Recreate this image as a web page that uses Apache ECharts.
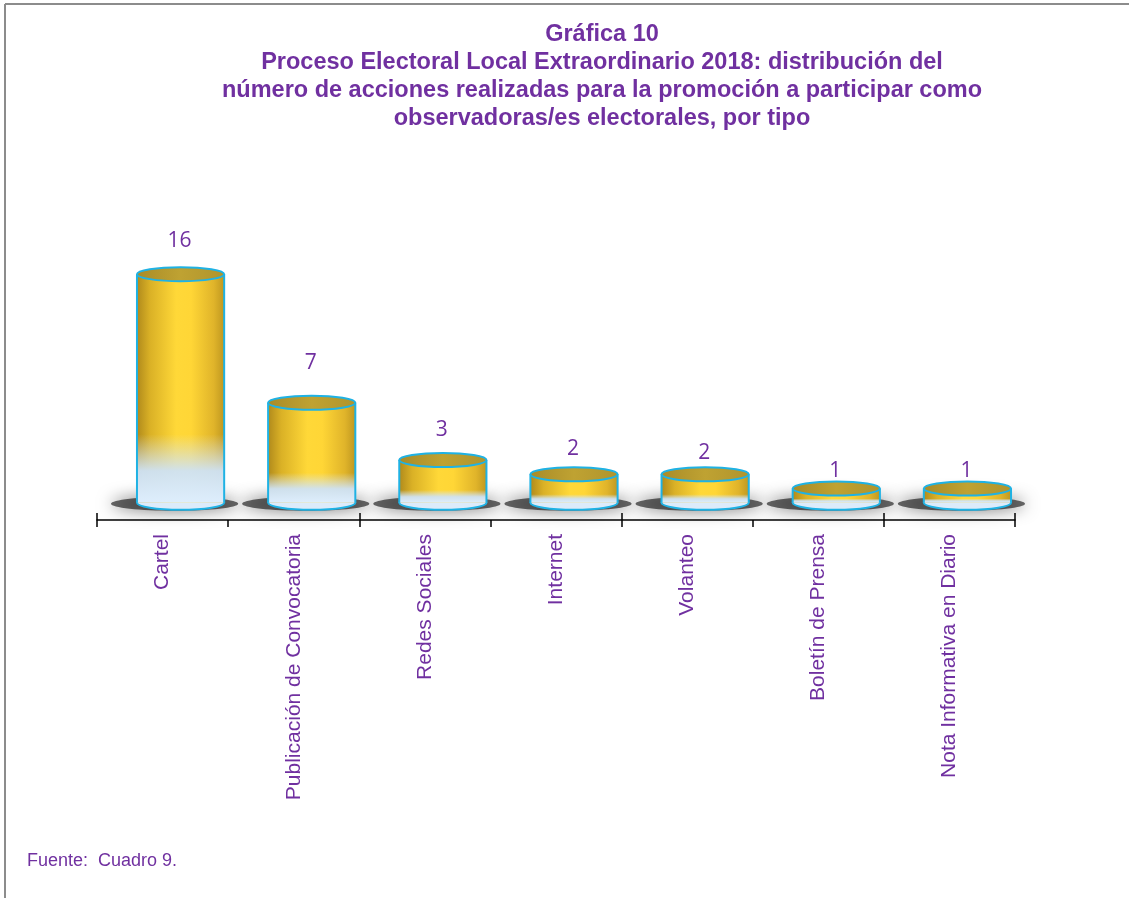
<!DOCTYPE html>
<html>
<head>
<meta charset="utf-8">
<script src="https://cdn.jsdelivr.net/npm/echarts@6/dist/echarts.min.js"></script>
<style>
  html, body { margin: 0; padding: 0; background: #fff; }
  #grafica10 { width: 1129px; height: 898px; }
</style>
</head>
<body>
<div id="grafica10"></div>
<script>
// datos de la gráfica
var categorias = ["Cartel", "Publicación de Convocatoria", "Redes Sociales", "Internet", "Volanteo", "Boletín de Prensa", "Nota Informativa en Diario"];
var acciones = [16, 7, 3, 2, 2, 1, 1];
var titulo = "Gráfica 10\nProceso Electoral Local Extraordinario 2018: distribución del\nnúmero de acciones realizadas para la promoción a participar como\nobservadoras/es electorales, por tipo";
var fuente = "Fuente:  Cuadro 9.";

var morado = "#7030a0";
var cian = "#1fb2e4";
// separacion de la etiqueta sobre la tapa (estilo)
var alzaEtiqueta = [33, 40, 30, 25, 21, 18, 18];

var grafica10 = echarts.init(document.getElementById("grafica10"));

function cilindro(params, api) {
  var i = api.value(0);
  var v = api.value(1);
  var top = api.coord([i, v]);
  var base = api.coord([i, 0]);
  var ancho = api.size([1, 0])[0] * 0.665;
  var rx = ancho / 2;
  var ry = 7;
  var cx = top[0] + 18;
  var yT = top[1];
  var yB = base[1];
  var x0 = cx - rx;
  var x1 = cx + rx;
  var dorado = new echarts.graphic.LinearGradient(0, 0, 1, 0, [
    { offset: 0, color: "#b08a1c" },
    { offset: 0.15, color: "#dab126" },
    { offset: 0.45, color: "#ffd838" },
    { offset: 0.62, color: "#ffd636" },
    { offset: 0.88, color: "#e0b42a" },
    { offset: 1, color: "#bf9820" },
  ]);
  var azul = new echarts.graphic.LinearGradient(0, 0, 0, 1, [
    { offset: 0, color: "rgba(214,232,250,0)" },
    { offset: 0.7, color: "rgba(214,232,250,0)" },
    { offset: 0.86, color: "rgba(206,226,246,0.95)" },
    { offset: 1, color: "rgba(222,238,253,1)" },
  ]);
  return {
    type: "group",
    children: [
      {
        type: "ellipse",
        shape: { cx: cx - 6, cy: yB + 1, rx: rx + 20, ry: 7 },
        style: {
          fill: "rgba(10,10,10,0.6)",
          shadowBlur: 16,
          shadowColor: "rgba(0,0,0,0.9)",
        },
      },
      {
        type: "ellipse",
        shape: { cx: cx, cy: yB, rx: rx, ry: ry },
        style: { fill: "#dcebfa", stroke: cian, lineWidth: 2 },
      },
      {
        type: "rect",
        shape: { x: x0, y: yT, width: ancho, height: yB - yT },
        style: { fill: dorado },
      },
      {
        type: "rect",
        shape: { x: x0, y: yT, width: ancho, height: yB - yT },
        style: { fill: azul },
      },
      {
        type: "line",
        shape: { x1: x0, y1: yT, x2: x0, y2: yB },
        style: { stroke: cian, lineWidth: 2 },
      },
      {
        type: "line",
        shape: { x1: x1, y1: yT, x2: x1, y2: yB },
        style: { stroke: cian, lineWidth: 2 },
      },
      {
        type: "ellipse",
        shape: { cx: cx, cy: yT, rx: rx, ry: ry },
        style: {
          fill: new echarts.graphic.LinearGradient(0, 0, 1, 0, [
            { offset: 0, color: "#a88b28" },
            { offset: 0.5, color: "#bfa232" },
            { offset: 1, color: "#b0942c" },
          ]),
          stroke: cian,
          lineWidth: 2,
        },
      },
      {
        type: "text",
        style: {
          text: String(v),
          x: cx - 1,
          y: yT - alzaEtiqueta[i],
          align: "center",
          verticalAlign: "middle",
          fill: morado,
          font: "21px 'Open Sans', sans-serif",
        },
      },
    ],
  };
}

var option = {
  animation: false,
  title: {
    text: titulo,
    left: 597,
    top: 16,
    textAlign: "center",
    textStyle: {
      color: morado,
      fontFamily: "Liberation Sans",
      fontWeight: "bold",
      fontSize: 23.5,
      lineHeight: 28,
    },
  },
  graphic: [
    {
      type: "line",
      shape: { x1: 5, y1: 4, x2: 5, y2: 898 },
      style: { stroke: "#8c8c8c", lineWidth: 2 },
    },
    {
      type: "line",
      shape: { x1: 5, y1: 4, x2: 1129, y2: 4 },
      style: { stroke: "#8c8c8c", lineWidth: 2 },
    },
    {
      type: "text",
      left: 27,
      top: 852,
      style: {
        text: fuente,
        fill: morado,
        font: "18px 'Liberation Sans', Arial, sans-serif",
      },
    },
  ],
  grid: {
    left: 97,
    right: 114,
    top: 217,
    bottom: 378,
  },
  xAxis: [
    {
      type: "category",
      data: categorias,
      position: "bottom",
      axisLine: { show: true, onZero: false, lineStyle: { color: "#000", width: 1.5 } },
      axisTick: { show: true, length: 7, lineStyle: { color: "#000", width: 1.5 } },
      axisLabel: {
        rotate: 90,
        interval: 0,
        margin: 14,
        color: morado,
        fontFamily: "Liberation Sans",
        fontSize: 21,
      },
    },
    {
      type: "category",
      data: categorias,
      position: "bottom",
      axisLine: { show: false, onZero: false },
      axisTick: { show: true, inside: true, length: 7, lineStyle: { color: "#000", width: 1.5 } },
      axisLabel: { show: false },
    },
  ],
  yAxis: {
    type: "value",
    min: -1.2,
    max: 20,
    show: false,
  },
  series: [
    {
      type: "custom",
      renderItem: cilindro,
      encode: { x: 0, y: 1 },
      data: acciones.map(function (v, i) {
        return [i, v];
      }),
    },
  ],
};

grafica10.setOption(option);
</script>
</body>
</html>
